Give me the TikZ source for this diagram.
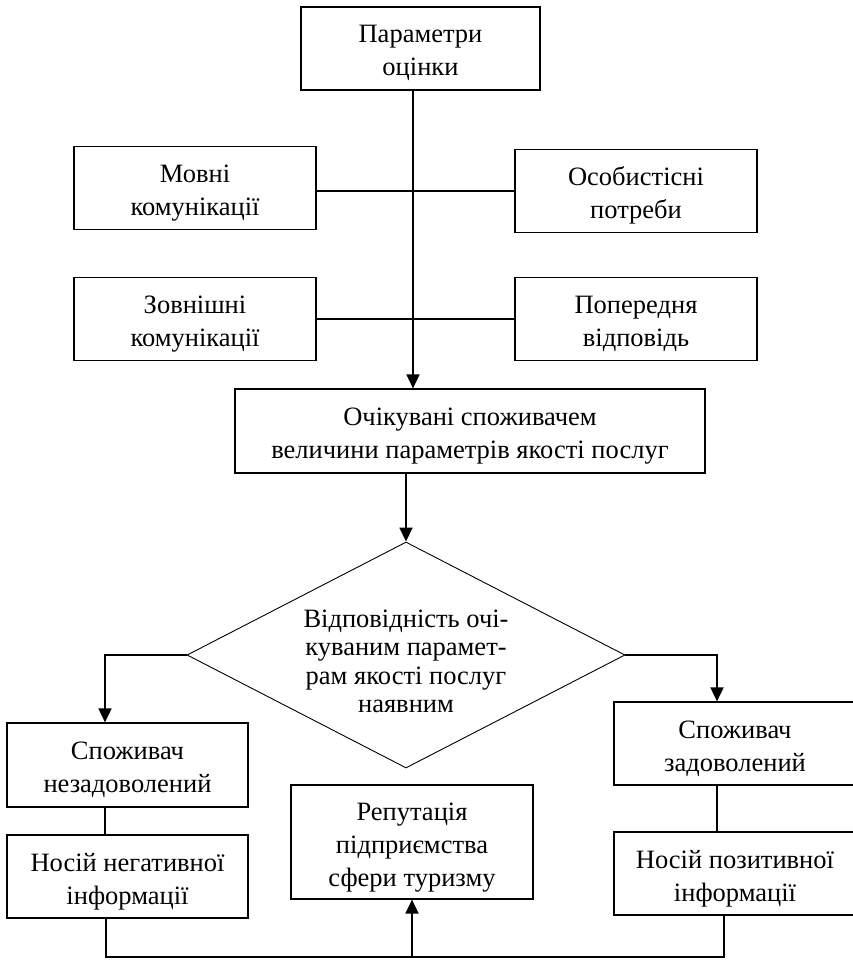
\documentclass[tikz,border=0pt]{standalone}
\usepackage{fontspec}
\setmainfont{Liberation Serif}
\usetikzlibrary{arrows.meta,shapes.geometric}
% fixed struts so every label sits at the same height in its box
\newcommand\firstline{\rule{0pt}{30pt}}
\newcommand\lastline{\rule[-8pt]{0pt}{8pt}}
\begin{document}
\begin{tikzpicture}[x=1pt,y=-1pt,
  box/.style={draw, line width=1.2pt, inner sep=0pt, align=center,
    minimum width=242, minimum height=83,
    font=\fontsize{26.5}{33}\selectfont},
  link/.style={line width=1.8pt},
  arr/.style={link, -{Triangle[length=14pt,width=13pt]}},
]
\useasboundingbox (0,0) rectangle (853,960);
\clip (0,0) rectangle (853,960);

% boxes
\node[box, minimum width=239] (top) at (420.5,48.5) {\firstline Параметри\\оцінки\lastline};
\node[box] (mov)  at (195,188)   {\firstline Мовні\\комунікації\lastline};
\node[box] (osob) at (636,191)   {\firstline Особистісні\\потреби\lastline};
\node[box] (zovn) at (195,319) {\firstline Зовнішні\\комунікації\lastline};
\node[box] (pop)  at (636,319) {\firstline Попередня\\відповідь\lastline};
\node[box, minimum width=470, minimum height=84] (main) at (470,431)
  {\firstline Очікувані споживачем\\величини параметрів якості послуг\lastline};
\node[draw, diamond, line width=0.9pt, inner sep=0pt, aspect=1.94,
  minimum width=438, minimum height=226, align=center,
  font=\fontsize{26.5}{28.5}\selectfont] (dia) at (406,655)
  {\firstline Відповідність очі-\\куваним парамет-\\рам якості послуг\\наявним};
\node[box, minimum width=241, minimum height=84] (ln1) at (127.5,765) {\firstline Споживач\\незадоволений\lastline};
\node[box, minimum width=241] (nn) at (127.5,876.5) {\firstline Носій негативної\\інформації\lastline};
\node[box, minimum height=114] (rep) at (412,842) {\firstline Репутація\\підприємства\\сфери туризму\lastline};
\node[box, minimum width=242] (sz) at (735,743.5) {\firstline Споживач\\задоволений\lastline};
\node[box, minimum width=242] (np) at (735,873.5) {\firstline Носій позитивної\\інформації\lastline};

% routing columns
\coordinate (spine) at (413,0);
\coordinate (lx) at (105,0);
\coordinate (rx) at (717,0);
\coordinate (bl) at (106,957);
\coordinate (br) at (724,957);

% connectors
\draw[arr] (top.south -| spine) -- (main.north -| spine);
\draw[link] (osob.west) -- (osob.west -| mov.east);
\draw[link] (pop.west) -- (pop.west -| zovn.east);
\draw[arr] (main.south -| dia.north) -- (dia.north);
\draw[arr] (dia.west) -| (ln1.north -| lx);
\draw[arr] (dia.east) -| (sz.north -| rx);
\draw[link] (ln1.south -| lx) -- (nn.north -| lx);
\draw[link] (sz.south -| rx) -- (np.north -| rx);
\draw[link] (nn.south -| bl) -- (bl) -- (br) -- (np.south -| br);
\draw[arr] (rep.south |- bl) -- (rep.south);
\end{tikzpicture}
\end{document}
